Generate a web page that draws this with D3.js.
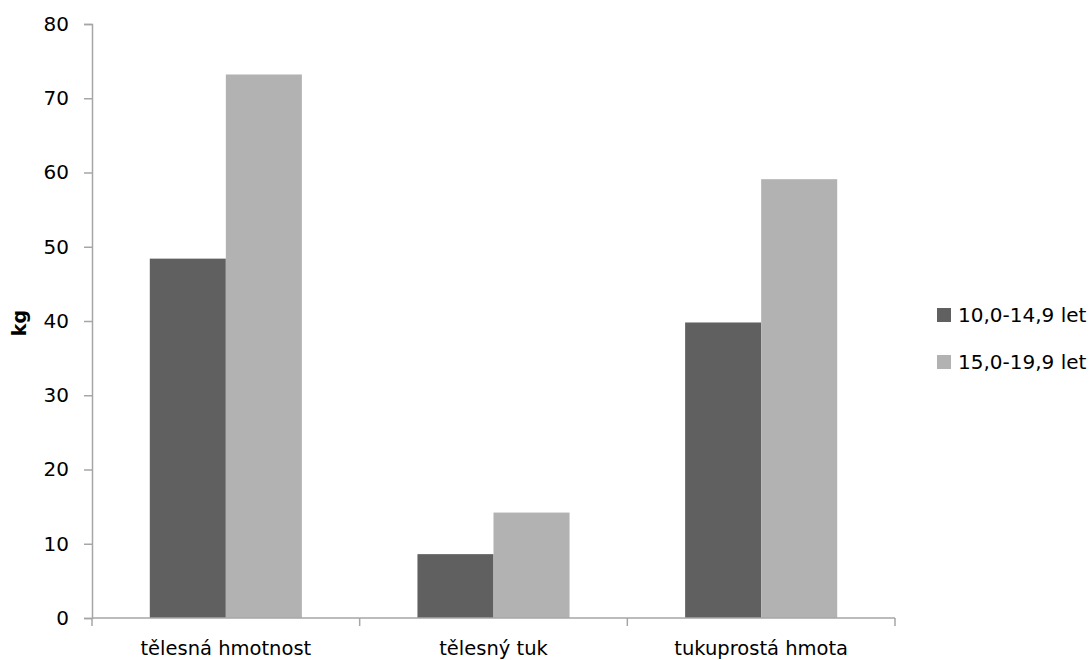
<!DOCTYPE html>
<html>
<head>
<meta charset="utf-8">
<script src="https://cdn.jsdelivr.net/npm/d3@7"></script>
<style>
  html, body { margin: 0; padding: 0; background: #ffffff; }
  svg { display: block; }
  text { font-family: "DejaVu Sans", Verdana, sans-serif; fill: #000; }
</style>
</head>
<body>
<svg id="chart" width="1090" height="660"></svg>
<script>
// Body composition by age group (kg)
const categories = ["tělesná hmotnost", "tělesný tuk", "tukuprostá hmota"];
const seriesNames = ["10,0-14,9 let", "15,0-19,9 let"];
const youngerValues = [48.4, 8.6, 39.8];
const olderValues = [73.2, 14.2, 59.1];
const yTicks = [0, 10, 20, 30, 40, 50, 60, 70, 80];
const seriesColors = ["#606060", "#b2b2b2"];
const yLabel = "kg";

const rows = categories.map((c, i) => ({
  category: c,
  values: [youngerValues[i], olderValues[i]]
}));

const svg = d3.select("#chart");
const margin = { left: 92, top: 24, right: 195, bottom: 42 };
const width = 1090 - margin.left - margin.right;
const height = 660 - margin.top - margin.bottom;

const g = svg.append("g").attr("transform", `translate(${margin.left},${margin.top})`);

const x0 = d3.scaleBand().domain(categories).range([0, width]).padding(0);
const x1 = d3.scaleBand().domain(seriesNames).range([0, x0.bandwidth()])
  .paddingInner(0).paddingOuter(0.76);
const y = d3.scaleLinear().domain([0, 80]).range([height, 0]);
const color = d3.scaleOrdinal().domain(seriesNames).range(seriesColors);

// Bars
const groups = g.selectAll("g.cat").data(rows).join("g")
  .attr("class", "cat")
  .attr("transform", d => `translate(${x0(d.category)},0)`);

groups.selectAll("rect")
  .data(d => d.values.map((v, i) => ({ name: seriesNames[i], value: v })))
  .join("rect")
  .attr("x", d => x1(d.name))
  .attr("y", d => y(d.value))
  .attr("width", x1.bandwidth())
  .attr("height", d => height - y(d.value))
  .attr("fill", d => color(d.name));

// Y axis
const yAxis = g.append("g")
  .call(d3.axisLeft(y).tickValues(yTicks).tickSize(8).tickPadding(15));
yAxis.select(".domain").attr("stroke", "#a6a6a6").attr("stroke-width", 1.5);
yAxis.selectAll(".tick line").attr("stroke", "#a6a6a6").attr("stroke-width", 1.5);
yAxis.selectAll(".tick text")
  .style("font-family", "'DejaVu Sans', Verdana, sans-serif")
  .style("font-size", "20px").attr("fill", "#000");

// X axis: category boundaries marked with ticks
const xAxis = g.append("g").attr("transform", `translate(0,${height})`);
xAxis.append("line")
  .attr("x1", 0).attr("x2", width)
  .attr("stroke", "#a6a6a6").attr("stroke-width", 1.5);
const boundaries = categories.map(c => x0(c)).concat([x0(categories[categories.length - 1]) + x0.bandwidth()]);
xAxis.selectAll("line.bt").data(boundaries).join("line")
  .attr("class", "bt")
  .attr("x1", d => d).attr("x2", d => d)
  .attr("y1", 0).attr("y2", 8)
  .attr("stroke", "#a6a6a6").attr("stroke-width", 1.5);
xAxis.selectAll("text.cl").data(categories).join("text")
  .attr("class", "cl")
  .attr("x", d => x0(d) + x0.bandwidth() / 2)
  .attr("y", 37)
  .attr("text-anchor", "middle")
  .style("font-size", "19.5px")
  .text(d => d);

// Y axis title
g.append("text")
  .attr("transform", `translate(${-66},${height / 2 + 2}) rotate(-90)`)
  .attr("text-anchor", "middle")
  .style("font-size", "19px")
  .style("font-weight", "bold")
  .text(yLabel);

// Legend
const legend = svg.append("g").attr("transform", "translate(937,308)");
const items = legend.selectAll("g").data(seriesNames).join("g")
  .attr("transform", (d, i) => `translate(0,${i * 47})`);
items.append("rect").attr("width", 14).attr("height", 14).attr("fill", d => color(d));
items.append("text").attr("x", 21).attr("y", 7).attr("dy", "0.36em")
  .style("font-size", "20px").text(d => d);
</script>
</body>
</html>
